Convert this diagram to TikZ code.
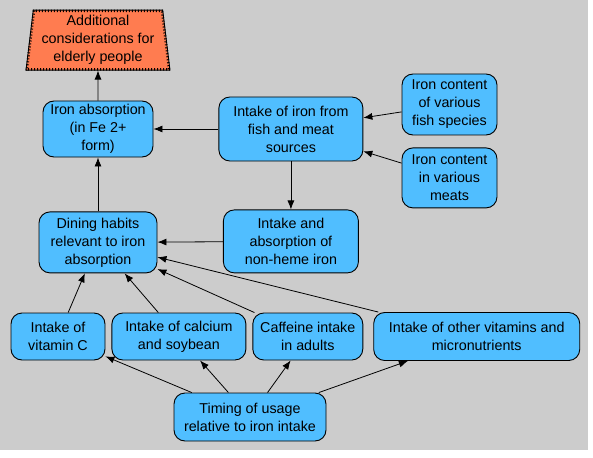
\documentclass[tikz,border=0pt]{standalone}
\usepackage{fontspec}
\setmainfont{Liberation Sans}
\usetikzlibrary{arrows.meta,positioning,shapes.geometric}
\definecolor{boxblue}{RGB}{80,190,255}
\definecolor{coral}{RGB}{255,124,80}
\definecolor{bggray}{RGB}{204,204,204}
\tikzset{
  box/.style ={rectangle,draw,rounded corners=11pt,fill=boxblue,align=center,inner sep=2pt,line width=0.9pt},
  goal/.style={trapezium,draw,fill=coral,trapezium angle=83,trapezium stretches=true,align=center,inner sep=2pt,line width=0.9pt},
  sz/.style 2 args={minimum width=#1pt,minimum height=#2pt},
  ar/.style={-{Latex[length=9pt,width=7pt]},line width=0.8pt},
}

\begin{document}
\begin{tikzpicture}[x=1pt,y=-1pt,font=\fontsize{14.3}{18}\selectfont]
  \fill[white] (0,0) rectangle (593,457);
  \fill[bggray] (0,0) rectangle (588,450);
  \useasboundingbox (0,0) rectangle (593,457);
  \node[box,sz={110}{56}] at (98,129) (iron) {Iron absorption\\(in Fe 2+\\form)};
  \node[goal,sz={144}{60},above=30pt of iron] (add) {Additional\\considerations for\\elderly people};
  \node[box,sz={144}{64},right=65pt of iron] (fish) {Intake of iron from\\fish and meat\\sources};
  \node[box,sz={95}{61}] at (449.5,104.5) (fsp) {Iron content\\of various\\fish species};
  \node[box,sz={95}{60},below=12pt of fsp] (meat) {Iron content\\in various\\meats};
  \node[box,sz={135}{63},below=48pt of fish] (nh) {Intake and\\absorption of\\non-heme iron};
  \node[box,sz={118}{61},below=54pt of iron] (dine) {Dining habits\\relevant to iron\\absorption};
  \node[box,sz={94}{47}] at (58,336.5) (vitc) {Intake of\\vitamin C};
  \node[box,sz={134}{47},right=6pt of vitc] (calc) {Intake of calcium\\and soybean};
  \node[box,sz={110}{47},right=6pt of calc] (caf) {Caffeine intake\\in adults};
  \node[box,sz={206}{48},right=10pt of caf] (oth) {Intake of other vitamins and\\micronutrients};
  \node[box,sz={152}{48}] at (250,417) (time) {Timing of usage\\relative to iron intake};
  \begin{scope}
    \clip (add.top left corner)--(add.top right corner)--(add.bottom right corner)--(add.bottom left corner)--cycle;
    \draw[line width=5pt,dash pattern=on 1pt off 2pt] (add.top left corner)--(add.top right corner)--(add.bottom right corner)--(add.bottom left corner)--cycle;
  \end{scope}
  \draw[ar](iron)--(add); \draw[ar](dine)--(iron); \draw[ar](fish)--(iron);
  \draw[ar](fsp)--(fish); \draw[ar](meat)--(fish); \draw[ar](fish)--(nh);
  \draw[ar](nh)--(dine); \draw[ar](vitc)--(dine); \draw[ar](calc)--(dine);
  \draw[ar](caf)--(dine); \draw[ar](oth)--(dine);
  \draw[ar](time)--(vitc); \draw[ar](time)--(calc); \draw[ar](time)--(caf); \draw[ar](time)--(oth);
\end{tikzpicture}
\end{document}
